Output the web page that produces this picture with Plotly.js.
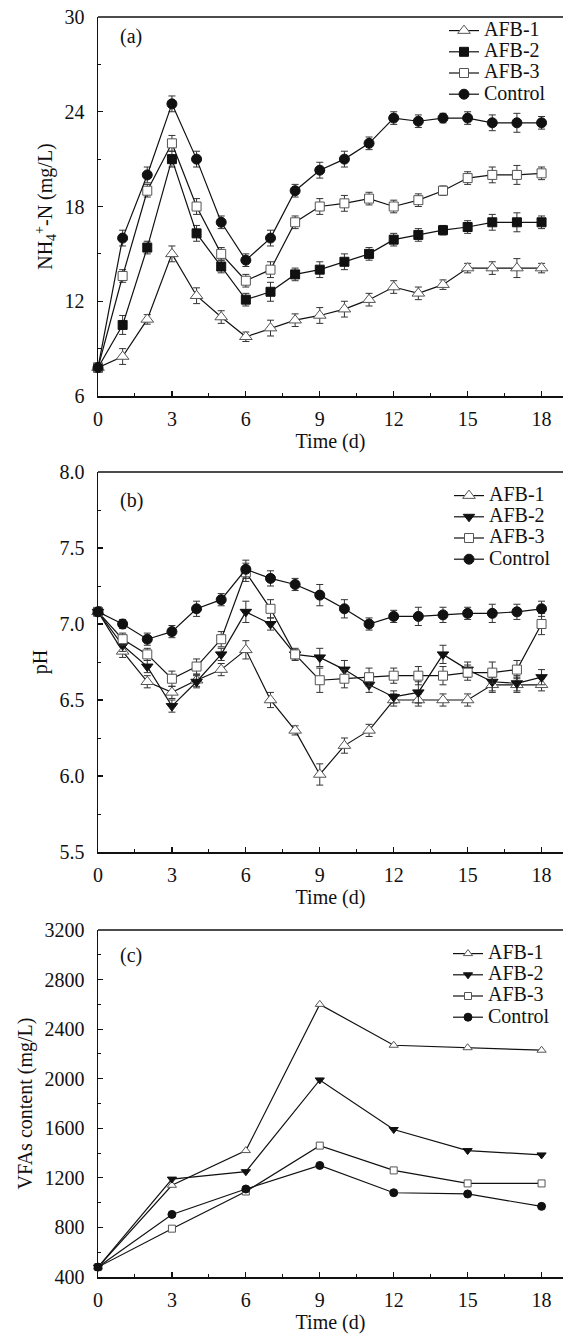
<!DOCTYPE html>
<html>
<head>
<meta charset="utf-8">
<script src="https://cdn.plot.ly/plotly-3.0.1.min.js"></script>
<style>html,body{margin:0;padding:0;background:#fff;}#chart{width:563px;height:1334px;}</style>
</head>
<body>
<div id="chart"></div>
<script>
// ---------- DATA ----------
const daysDaily = [0,1,2,3,4,5,6,7,8,9,10,11,12,13,14,15,16,17,18];
const daysVFA = [0,3,6,9,12,15,18];
const seriesNames = ['AFB-1','AFB-2','AFB-3','Control'];

// (a) NH4+-N (mg/L)
const nh4_AFB1 = [7.8,8.5,10.85,15.0,12.35,11.0,9.75,10.3,10.8,11.1,11.5,12.1,12.9,12.5,13.05,14.1,14.1,14.1,14.1];
const nh4_AFB2 = [7.8,10.5,15.4,21.0,16.3,14.2,12.1,12.6,13.7,14.0,14.5,15.0,15.9,16.2,16.5,16.7,17.0,17.0,17.0];
const nh4_AFB3 = [7.8,13.6,19.0,22.0,18.0,15.0,13.3,14.0,17.0,18.0,18.2,18.5,18.0,18.4,19.0,19.8,20.0,20.0,20.1];
const nh4_Ctrl = [7.8,16.0,20.0,24.5,21.0,17.0,14.6,16.0,19.0,20.3,21.0,22.0,23.6,23.4,23.6,23.6,23.3,23.3,23.3];
const nh4Err_AFB1 = [0.2,0.5,0.3,0.5,0.5,0.4,0.3,0.5,0.4,0.5,0.5,0.4,0.4,0.4,0.3,0.3,0.4,0.6,0.3];
const nh4Err_AFB2 = [0.2,0.6,0.4,0.5,0.5,0.4,0.4,0.6,0.4,0.5,0.5,0.4,0.4,0.4,0.3,0.4,0.5,0.6,0.4];
const nh4Err_AFB3 = [0.2,0.4,0.4,0.5,0.5,0.4,0.4,0.5,0.4,0.5,0.5,0.4,0.4,0.4,0.3,0.4,0.5,0.6,0.4];
const nh4Err_Ctrl = [0.2,0.5,0.5,0.5,0.5,0.4,0.4,0.5,0.4,0.5,0.5,0.4,0.4,0.4,0.3,0.4,0.5,0.6,0.4];

// (b) pH
const ph_AFB1 = [7.08,6.82,6.62,6.55,6.63,6.70,6.83,6.50,6.30,6.01,6.20,6.30,6.50,6.50,6.50,6.50,6.60,6.60,6.60];
const ph_AFB2 = [7.08,6.86,6.72,6.46,6.62,6.80,7.08,7.00,6.80,6.78,6.70,6.60,6.52,6.55,6.80,6.70,6.62,6.61,6.65];
const ph_AFB3 = [7.08,6.90,6.80,6.64,6.72,6.90,7.34,7.10,6.80,6.63,6.64,6.65,6.66,6.66,6.66,6.68,6.68,6.70,7.00];
const ph_Ctrl = [7.08,7.00,6.90,6.95,7.10,7.16,7.36,7.30,7.26,7.19,7.10,7.00,7.05,7.05,7.06,7.07,7.07,7.08,7.10];
const phErr_AFB1 = [0.03,0.04,0.04,0.04,0.04,0.04,0.06,0.05,0.03,0.07,0.05,0.04,0.04,0.04,0.04,0.04,0.05,0.05,0.04];
const phErr_AFB2 = [0.03,0.04,0.04,0.04,0.04,0.04,0.07,0.04,0.04,0.06,0.06,0.05,0.04,0.07,0.06,0.05,0.06,0.05,0.05];
const phErr_AFB3 = [0.03,0.04,0.04,0.05,0.05,0.05,0.06,0.06,0.03,0.08,0.06,0.06,0.05,0.06,0.06,0.05,0.07,0.06,0.07];
const phErr_Ctrl = [0.03,0.03,0.04,0.04,0.05,0.04,0.06,0.05,0.04,0.07,0.06,0.04,0.04,0.06,0.05,0.04,0.06,0.05,0.05];

// (c) VFAs content (mg/L)
const vfa_AFB1 = [480,1140,1420,2600,2270,2250,2230];
const vfa_AFB2 = [480,1190,1250,1990,1590,1420,1385];
const vfa_AFB3 = [480,790,1090,1460,1260,1155,1155];
const vfa_Ctrl = [480,905,1110,1300,1080,1070,970];

const xTicks = [0,3,6,9,12,15,18];
const yTicksA = [6,12,18,24,30];
const yTicksB = [5.5,6.0,6.5,7.0,7.5,8.0];
const yTicksC = [400,800,1200,1600,2000,2400,2800,3200];

// ---------- STYLE ----------
const FONT = 'Liberation Serif, Times New Roman, serif';
const BLACK = '#111';
const GREY = '#555';
const markerA = [
  {symbol:'triangle-up', color:'#fff', line:{color:GREY,width:1}, size:11},
  {symbol:'square', color:BLACK, line:{color:BLACK,width:1}, size:9},
  {symbol:'square', color:'#fff', line:{color:GREY,width:1}, size:9},
  {symbol:'circle', color:BLACK, line:{color:BLACK,width:1}, size:10}
];
const markerB = [
  {symbol:'triangle-up', color:'#fff', line:{color:GREY,width:1}, size:11},
  {symbol:'triangle-down', color:BLACK, line:{color:BLACK,width:1}, size:10},
  {symbol:'square', color:'#fff', line:{color:GREY,width:1}, size:9},
  {symbol:'circle', color:BLACK, line:{color:BLACK,width:1}, size:10}
];
const markerC = [
  {symbol:'triangle-up', color:'#fff', line:{color:GREY,width:1}, size:8},
  {symbol:'triangle-down', color:BLACK, line:{color:BLACK,width:1}, size:8},
  {symbol:'square', color:'#fff', line:{color:GREY,width:1}, size:7},
  {symbol:'circle', color:BLACK, line:{color:BLACK,width:1}, size:8}
];

function legendName(n){ return '<span style="font-size:20px">' + n + '</span>'; }

function mk(x, y, err, i, markers, xa, ya, leg) {
  const t = {
    type:'scatter', mode:'lines+markers', x:x, y:y, name:legendName(seriesNames[i]),
    xaxis:xa, yaxis:ya, legend:leg,
    line:{color:BLACK, width:1.2},
    marker:markers[i], cliponaxis:false
  };
  if (err) t.error_y = {type:'data', array:err, visible:true, color:'#333', thickness:1, width:3.5};
  return t;
}

const dataA = [nh4_AFB1,nh4_AFB2,nh4_AFB3,nh4_Ctrl];
const errA = [nh4Err_AFB1,nh4Err_AFB2,nh4Err_AFB3,nh4Err_Ctrl];
const dataB = [ph_AFB1,ph_AFB2,ph_AFB3,ph_Ctrl];
const errB = [phErr_AFB1,phErr_AFB2,phErr_AFB3,phErr_Ctrl];
const dataC = [vfa_AFB1,vfa_AFB2,vfa_AFB3,vfa_Ctrl];

const traces = [];
for (let i=0;i<4;i++) traces.push(mk(daysDaily, dataA[i], errA[i], i, markerA, 'x', 'y', 'legend'));
for (let i=0;i<4;i++) traces.push(mk(daysDaily, dataB[i], errB[i], i, markerB, 'x2', 'y2', 'legend2'));
for (let i=0;i<4;i++) traces.push(mk(daysVFA, dataC[i], null, i, markerC, 'x3', 'y3', 'legend3'));

const H = 1334, T = 17, B = 57, PH = H - T - B;
function dom(topPx, botPx){ return [(H-B-botPx)/PH, (H-B-topPx)/PH]; }

function xax(anchor){
  return {
    domain:[0,1], anchor:anchor, range:[0,18.87], tickvals:xTicks, ticktext:xTicks.map(String),
    ticks:'inside', ticklen:5, tickwidth:1.2, tickcolor:BLACK,
    minor:{tickvals:[1.5,4.5,7.5,10.5,13.5,16.5], ticks:'inside', ticklen:3, tickwidth:1, tickcolor:BLACK},
    showline:true, linecolor:BLACK, linewidth:1.5, showgrid:false, zeroline:false,
    tickfont:{family:FONT, size:20, color:BLACK}, ticklabelstandoff:4,
    title:{text:'Time (d)', font:{family:FONT, size:20, color:BLACK}, standoff:4}
  };
}
function yax(anchor, domain, range, vals, fmt, minorDt, title){
  return {
    domain:domain, anchor:anchor, range:range, tickvals:vals, ticktext:vals.map(v=>fmt(v)),
    ticks:'inside', ticklen:5, tickwidth:1.2, tickcolor:BLACK,
    minor:{dtick:minorDt, tick0:range[0], ticks:'inside', ticklen:3, tickwidth:1, tickcolor:BLACK},
    showline:true, linecolor:BLACK, linewidth:1.5, showgrid:false, zeroline:false,
    tickfont:{family:FONT, size:20, color:BLACK}, ticklabelstandoff:8,
    title:{text:title, font:{family:FONT, size:20, color:BLACK}, standoff:6}
  };
}

function legend(xPx, topPx){
  return {x:(xPx-98)/465, y:(H-B-topPx)/PH, xref:'paper', yref:'paper', xanchor:'left', yanchor:'top',
    bgcolor:'rgba(255,255,255,0)', borderwidth:0, traceorder:'normal',
    font:{family:FONT, size:14, color:BLACK}, tracegroupgap:0};
}

const layout = {
  width:563, height:1334, paper_bgcolor:'#fff', plot_bgcolor:'#fff',
  margin:{l:98, r:0, t:T, b:B},
  showlegend:true,
  font:{family:FONT, size:20, color:BLACK},
  xaxis: xax('y'),
  xaxis2: xax('y2'),
  xaxis3: xax('y3'),
  yaxis: yax('x', dom(17,396), [6,30], yTicksA, v=>String(v), 3, 'NH<sub>4</sub><sup>+</sup>-N (mg/L)'),
  yaxis2: yax('x2', dom(472,852), [5.5,8.0], yTicksB, v=>v.toFixed(1), 0.25, 'pH'),
  yaxis3: yax('x3', dom(930,1277), [400,3200], yTicksC, v=>String(v), 200, 'VFAs content (mg/L)'),
  legend: legend(444, 15),
  legend2: legend(449, 480),
  legend3: legend(448, 938),
  shapes: [
    {type:'line', xref:'x domain', yref:'y domain', x0:0, x1:1, y0:1, y1:1, line:{color:BLACK, width:1.5}},
    {type:'line', xref:'x2 domain', yref:'y2 domain', x0:0, x1:1, y0:1, y1:1, line:{color:BLACK, width:1.5}},
    {type:'line', xref:'x3 domain', yref:'y3 domain', x0:0, x1:1, y0:1, y1:1, line:{color:BLACK, width:1.5}}
  ],
  annotations: [
    {text:'(a)', xref:'x domain', yref:'y domain', x:0.043, y:1-20/379, xanchor:'left', yanchor:'middle', showarrow:false, bgcolor:'#fff', font:{family:FONT,size:20,color:BLACK}},
    {text:'(b)', xref:'x2 domain', yref:'y2 domain', x:0.043, y:1-28/380, xanchor:'left', yanchor:'middle', showarrow:false, bgcolor:'#fff', font:{family:FONT,size:20,color:BLACK}},
    {text:'(c)', xref:'x3 domain', yref:'y3 domain', x:0.043, y:1-25/347, xanchor:'left', yanchor:'middle', showarrow:false, bgcolor:'#fff', font:{family:FONT,size:20,color:BLACK}}
  ]
};

Plotly.newPlot('chart', traces, layout, {staticPlot:true, displayModeBar:false});
</script>
</body>
</html>
